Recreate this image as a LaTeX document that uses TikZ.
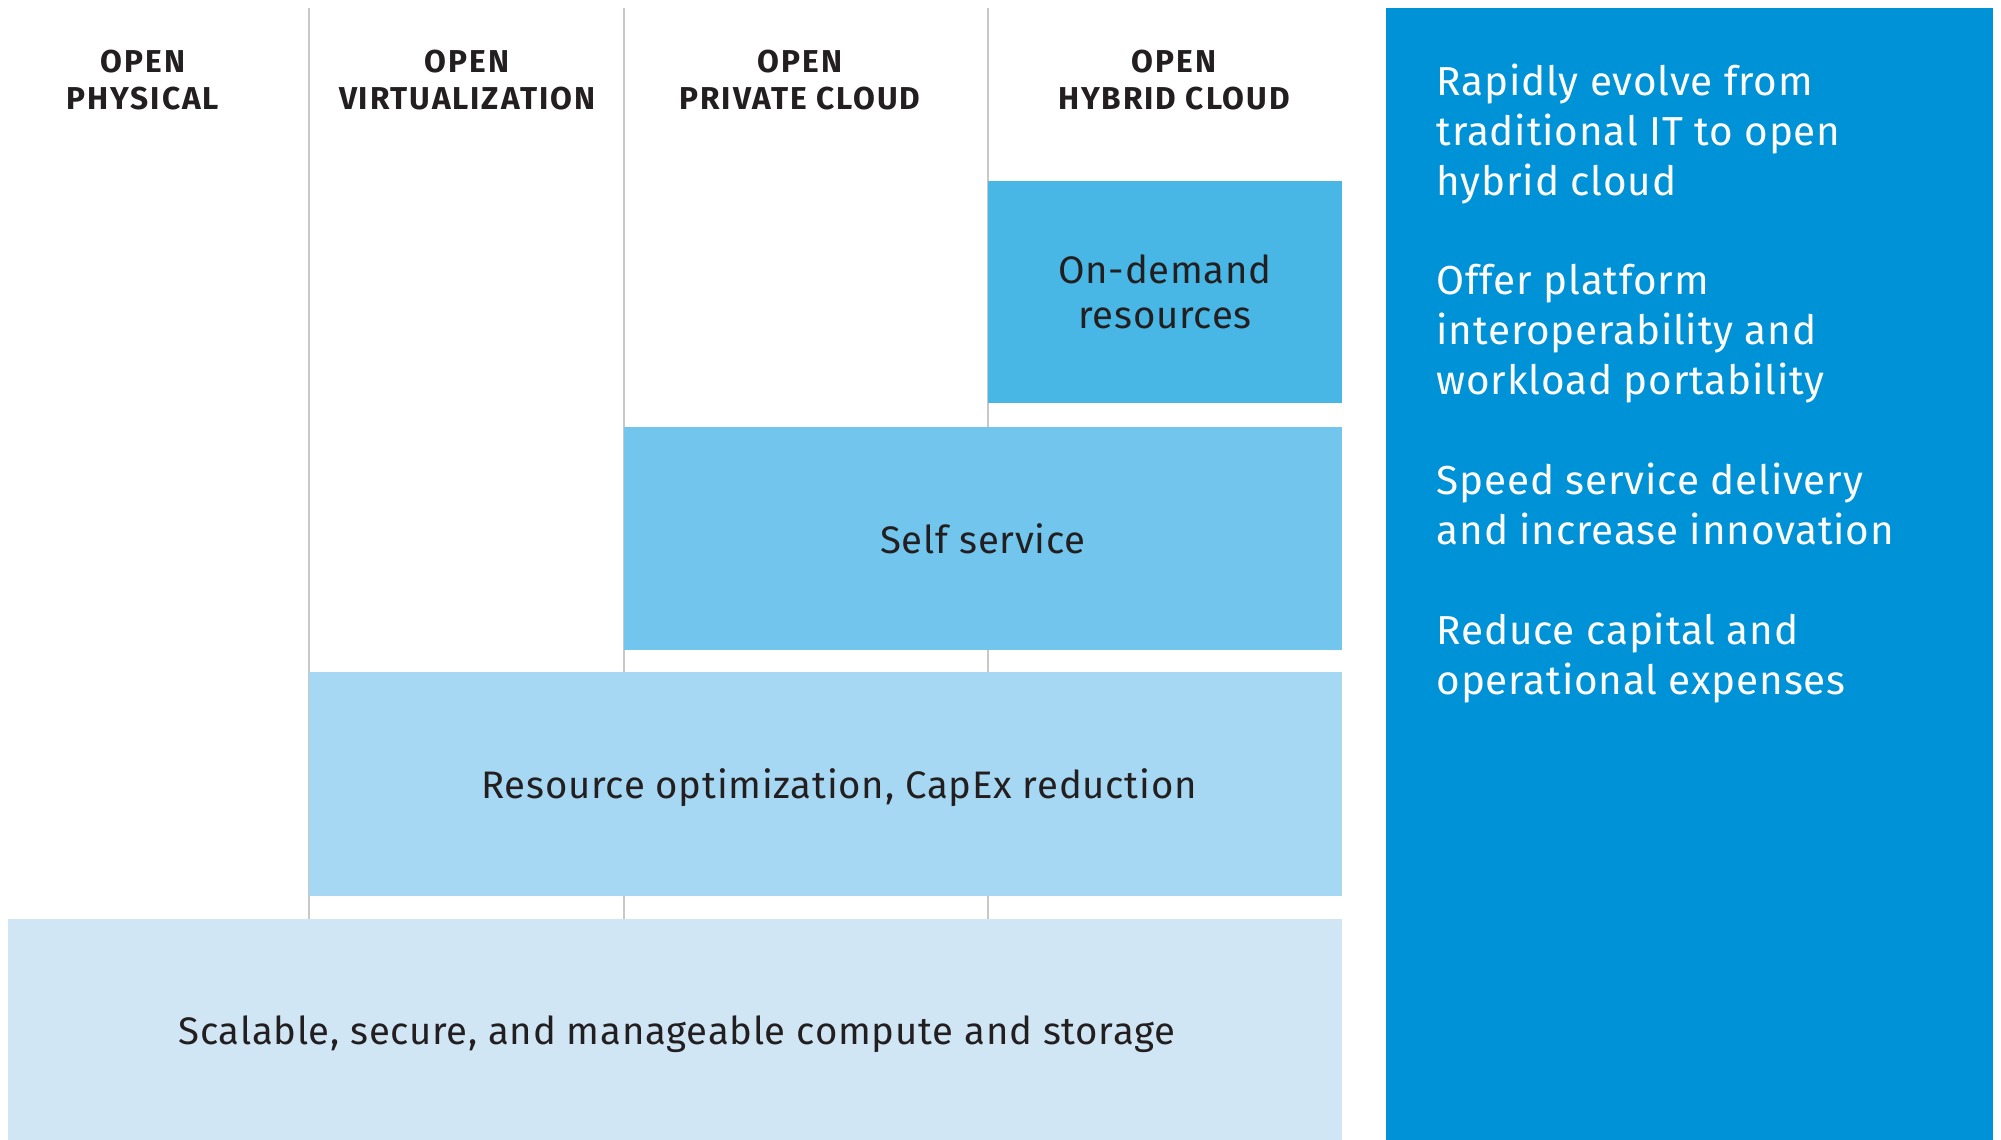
\documentclass[tikz,border=0pt]{standalone}
\usepackage{fontspec}
\setmainfont{Fira Sans}[LetterSpace=2.0]
\usetikzlibrary{positioning}
\definecolor{panelblue}{HTML}{0092D7}
\definecolor{ondemandblue}{HTML}{48B7E5}
\definecolor{selfblue}{HTML}{72C5ED}
\definecolor{optblue}{HTML}{A6D8F3}
\definecolor{baseblue}{HTML}{D0E6F5}
\definecolor{gridgrey}{HTML}{C8C8C8}
\definecolor{ink}{HTML}{231F20}
\tikzset{
  layer/.style={draw=none, inner sep=0pt, text=ink, align=center,
                font=\fontsize{10.9}{12.7}\selectfont},
  head/.style={inner sep=0pt, text=ink, align=center,
               font=\bfseries\fontsize{9}{10.5}\selectfont\addfontfeatures{LetterSpace=6.0}},
  gridline/.style={draw=gridgrey, line width=0.6pt},
  benefit/.style={inner sep=0pt, text=white, align=left,
                  font=\fontsize{11.5}{14.2}\selectfont}
}

\begin{document}
\begin{tikzpicture}[x=0.01cm, y=-0.01cm]
	\useasboundingbox (0,0) rectangle (2001,1140);

	% column rules
	\foreach \x in {309,624,988}
		\draw[gridline] (\x,8) -- (\x,919);

	% column heads
	\node[head] (hphys) at (143,80) {OPEN\\PHYSICAL};
	\node[head] (hvirt) at (467,80) {OPEN\\VIRTUALIZATION};
	\node[head] (hpriv) at (800,80) {OPEN\\PRIVATE CLOUD};
	\node[head] (hhyb) at (1174,80) {OPEN\\HYBRID CLOUD};

	% stacked layers
	\node[layer, fill=ondemandblue, minimum width=3.54cm, minimum height=2.22cm] (ondemand)
		at (1165,292) {On-demand\\resources};
	\node[layer, fill=selfblue, minimum width=7.18cm, minimum height=2.23cm] (self)
		at (983,538.5) {Self service};
	\fill[optblue] (309,672) rectangle (1342,896);
	\node[layer] (optim) at (839,788) {Resource optimization, CapEx reduction};
	\fill[baseblue] (8,919) rectangle (1342,1140);
	\node[layer] (scalable) at (677,1034) {Scalable, secure, and manageable compute and storage};

	% benefits panel
	\fill[panelblue] (1386,8) rectangle (1993,1140);
	\node[benefit, anchor=north west] (benefits) at (1436,63)
		{Rapidly evolve from\\traditional IT to open\\hybrid cloud\\[14.2pt]
		 Offer platform\\interoperability and\\workload portability\\[14.2pt]
		 Speed service delivery\\and increase innovation\\[14.2pt]
		 Reduce capital and\\operational expenses};

\end{tikzpicture}
\end{document}
